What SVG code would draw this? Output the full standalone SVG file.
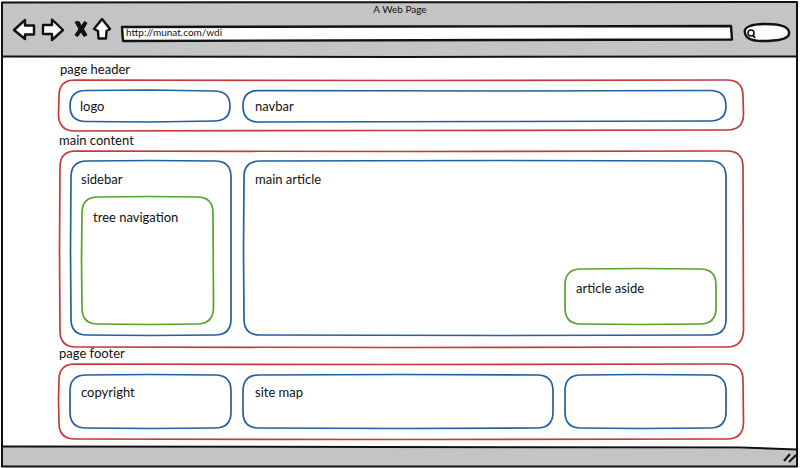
<svg xmlns="http://www.w3.org/2000/svg" width="800" height="468" viewBox="0 0 800 468">
<style>
text{font-family:"Lato","Noto Sans",sans-serif;font-size:13px;fill:#111}
.k{fill:none;stroke:#111;stroke-width:2;stroke-linejoin:round}
.w{fill:#fff;stroke:#111;stroke-width:2.400;stroke-linejoin:round}
.r,.b,.g{fill:none;stroke-width:1.700}
.r{stroke:#c23a3a}.b{stroke:#22609f}.g{stroke:#57a32b}
</style>
<rect width="800" height="468" fill="#fff"/>
<g id="browser">
<path d="M2 3H797V57L2 56Z" fill="#c4c4c4"/>
<path d="M2 447L797 449V466H2Z" fill="#c4c4c4"/>
<path class="k" d="M2 2.500L797 2V466.500H2Z"/>
<path class="k" d="M2 56.500L400 57L797 56.500"/>
<path class="k" d="M2 446.500L740 447.500L797 449.500"/>
<text x="400" y="13" text-anchor="middle" style="font-size:10px">A Web Page</text>
<path class="w" d="M14 30L25 20V25.500H34V34.500H25V39Z"/>
<path class="w" d="M63 30L52 19.500V25H43V34H52V40Z"/>
<path d="M75 22L79 21.500L81.500 26L84.500 21.500L87 23L83.500 29L87 35L84 36.500L81 32L77.500 36.500L75 35L79 29Z" fill="#111" stroke="#111"/>
<path class="w" d="M94 29L102 19L110 29L106.500 31L106 38.500H98.500L98 31Z"/>
<path class="w" d="M122 27L400 26.500L731 26L732 39.500L500 40L123 41Z"/>
<text x="126" y="36" style="font-size:10px">http://munat.com/wdi</text>
<path class="w" d="M745 33C743 27 752 24 765 24C782 24 790 27 789 34C788 40 775 41 762 41C752 41 746 39 745 33Z"/>
<circle cx="751" cy="33" r="3" fill="none" stroke="#111" stroke-width="1.600"/>
<path d="M753 35L755 38" stroke="#111" stroke-width="1.800"/>
<path d="M784 461L790 454M789 462L796 455" stroke="#111" stroke-width="2"/>
</g>
<g id="page-header">
<text x="60" y="74">page header</text>
<path class="r" d="M75 80L400 80.500L727 80Q743 80 743 96L743.500 115Q743 130 727 130L400 130.500L75 131Q59 131 58.500 115L59 96Q59 80 75 80Z"/>
</g>
<g id="logo">
<path class="b" d="M86 90.500L150 90L214 91Q230 91 230 106Q230 121 214 121L150 122L86 121.500Q70 121.500 70 106Q70 90.500 86 90.500Z"/>
<text x="80" y="111">logo</text>
</g>
<g id="navbar">
<path class="b" d="M259 90.500L500 91L710 90.500Q726 90.500 726 106Q726 121 710 121L500 121.500L259 122Q243 122 243 106Q243 90.500 259 90.500Z"/>
<text x="255" y="111">navbar</text>
</g>
<g id="main-content">
<text x="59" y="145">main content</text>
<path class="r" d="M76 151L400 151.500L727 151Q743 151 743 167L743.500 330Q743 347 727 347L400 347.500L76 347Q60 347 60 331L59.500 250L60 167Q60 151 76 151Z"/>
</g>
<g id="sidebar">
<path class="b" d="M87 161L150 160.500L215 161Q231 161 231 177L231 319Q231 335 215 335L150 335.500L87 335Q71 335 71 319L70.500 250L71 177Q71 161 87 161Z"/>
<text x="81" y="184">sidebar</text>
</g>
<g id="tree-navigation">
<path class="g" d="M98 197L150 196.500L197 197Q213 197 213 213L213.500 308Q213 324 197 324L150 324.500L98 324Q82 324 82 308L81.500 260L82 213Q82 197 98 197Z"/>
<text x="93" y="222">tree navigation</text>
</g>
<g id="main-article">
<path class="b" d="M260 161L500 160.500L710 161Q726 161 726 177L726 319Q726 335 710 335L500 335.500L260 335Q244 335 244 319L243.500 250L244 177Q244 161 260 161Z"/>
<text x="255" y="184">main article</text>
</g>
<g id="article-aside">
<path class="g" d="M581 269L640 268.500L700 269Q716 269 716 285L716 308Q716 324 700 324L640 324.500L581 324Q565 324 565 308L565 285Q565 269 581 269Z"/>
<text x="576" y="293">article aside</text>
</g>
<g id="page-footer">
<text x="59" y="358">page footer</text>
<path class="r" d="M75 364L400 364.500L727 364Q743 364 743 380L743.500 423Q743 439 727 439L400 439.500L75 439Q59 439 59 423L58.500 400L59 380Q59 364 75 364Z"/>
</g>
<g id="copyright">
<path class="b" d="M86 375L150 374.500L215 375Q231 375 231 391L231 412Q231 428 215 428L150 428.500L86 428Q70 428 70 412L70 391Q70 375 86 375Z"/>
<text x="81" y="397">copyright</text>
</g>
<g id="site-map">
<path class="b" d="M259 375L400 374.500L537 375Q553 375 553 391L553 412Q553 428 537 428L400 428.500L259 428Q243 428 243 412L243 391Q243 375 259 375Z"/>
<text x="255" y="397">site map</text>
</g>
<g id="footer-box">
<path class="b" d="M581 375L640 374.500L710 375Q726 375 726 391L726 412Q726 428 710 428L640 428.500L581 428Q565 428 565 412L565 391Q565 375 581 375Z"/>
</g>
<g id="connectors"/>
</svg>
